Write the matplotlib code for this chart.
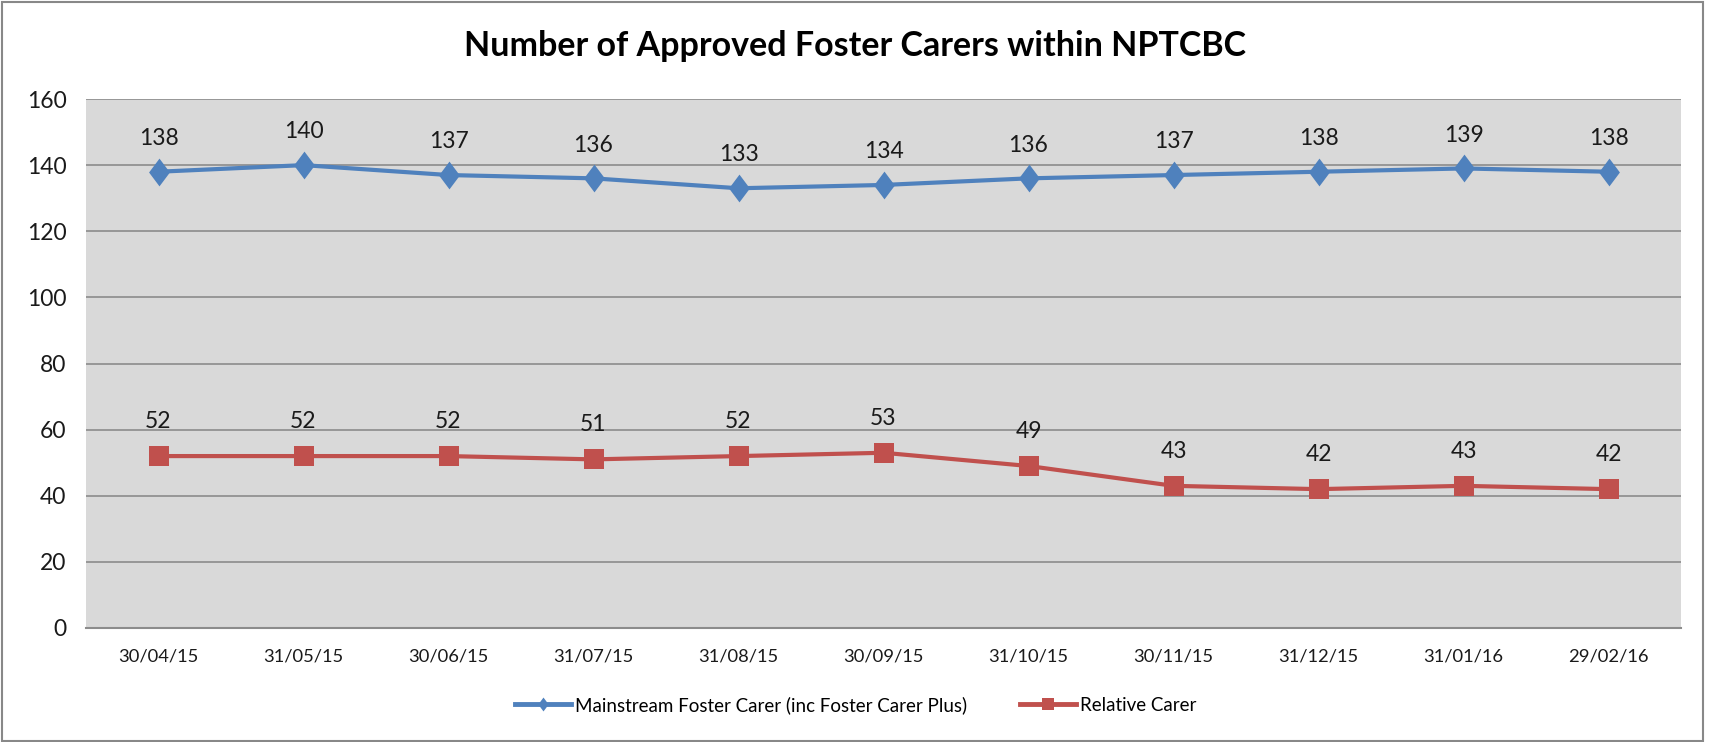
import matplotlib
matplotlib.use("Agg")
import matplotlib.pyplot as plt
from matplotlib.patches import Rectangle
from matplotlib.lines import Line2D

dates = ["30/04/15", "31/05/15", "30/06/15", "31/07/15", "31/08/15", "30/09/15",
         "31/10/15", "30/11/15", "31/12/15", "31/01/16", "29/02/16"]
mainstream = [138, 140, 137, 136, 133, 134, 136, 137, 138, 139, 138]
relative = [52, 52, 52, 51, 52, 53, 49, 43, 42, 43, 42]
yticks = [0, 20, 40, 60, 80, 100, 120, 140, 160]

plt.rcParams['font.family'] = ['Lato', 'DejaVu Sans']

BLUE = "#4F81BD"
RED = "#C0504D"

fig = plt.figure(figsize=(17.11, 7.42), dpi=100)
ax = fig.add_axes([86/1711, 1-628/742, (1681-86)/1711, (628-99)/742])

# outer border
fig.patches.append(Rectangle((2/1711, 1/742), 1-4/1711 - 6/1711, 1-3/742, transform=fig.transFigure,
                             fill=False, edgecolor="#888888", linewidth=1.5))

ax.set_facecolor("#D9D9D9")
x = list(range(len(dates)))
diamond = [(0, 1), (0.75, 0), (0, -1), (-0.75, 0), (0, 1)]
ax.plot(x, mainstream, color=BLUE, linewidth=3.0, marker=diamond, markersize=20,
        markeredgewidth=0, zorder=3)
ax.plot(x, relative, color=RED, linewidth=3.0, marker="s", markersize=15,
        markeredgewidth=0, zorder=3)

for xi, v in zip(x, mainstream):
    ax.annotate(str(v), (xi, v), xytext=(0, 24), textcoords="offset points",
                ha="center", va="center", fontsize=16.5, color="#1a1a1a")
for xi, v in zip(x, relative):
    ax.annotate(str(v), (xi, v), xytext=(0, 25), textcoords="offset points",
                ha="center", va="center", fontsize=16.5, color="#1a1a1a")

ax.set_xlim(-0.5, len(dates) - 0.5)
ax.set_ylim(0, 160)
ax.set_yticks(yticks)
ax.set_yticklabels([str(t) for t in yticks], fontsize=16.5, color="#1a1a1a")
ax.set_xticks(x)
ax.set_xticklabels(dates, fontsize=13.2, color="#1a1a1a")
ax.tick_params(axis="both", length=0)
ax.tick_params(axis="x", pad=15)
ax.tick_params(axis="y", pad=14)
ax.grid(axis="y", color="#8C8C8C", linewidth=1.2)
ax.set_axisbelow(True)
for s in ["left", "right", "top"]:
    ax.spines[s].set_visible(False)
ax.spines["bottom"].set_color("#8C8C8C")
ax.spines["bottom"].set_linewidth(1.5)

fig.text(0.5, 1-46/742, "Number of Approved Foster Carers within NPTCBC", ha="center", va="center",
         fontsize=24.5, fontweight="bold", color="#000000")

handles = [Line2D([], [], color=BLUE, linewidth=3.5, marker=diamond, markersize=10, markeredgewidth=0),
           Line2D([], [], color=RED, linewidth=3.5, marker="s", markersize=8, markeredgewidth=0)]
fig.legend(handles, ["Mainstream Foster Carer (inc Foster Carer Plus)", "Relative Carer"],
           loc="center", bbox_to_anchor=(0.5, 1-705/742), ncol=2, frameon=False,
           fontsize=13.5, handlelength=3.0, handletextpad=0.2, columnspacing=2.8)

fig.savefig("out.png", dpi=100)
